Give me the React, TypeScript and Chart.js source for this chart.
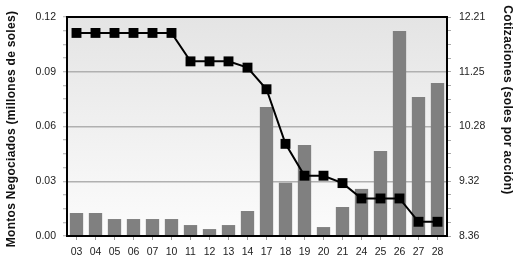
import React, { useEffect, useRef } from "react";
import { Chart, registerables } from "chart.js";

Chart.register(...registerables);

const categories = ["03", "04", "05", "06", "07", "10", "11", "12", "13", "14", "17", "18", "19", "20", "21", "24", "25", "26", "27", "28"];
const montos = [0.0126, 0.0126, 0.0093, 0.0093, 0.0093, 0.0093, 0.006, 0.0038, 0.006, 0.0137, 0.0707, 0.0292, 0.0499, 0.0049, 0.0159, 0.0258, 0.0466, 0.1123, 0.0762, 0.0838];
const cotizaciones = [11.93, 11.93, 11.93, 11.93, 11.93, 11.93, 11.43, 11.43, 11.43, 11.32, 10.94, 9.98, 9.42, 9.42, 9.29, 9.02, 9.02, 9.02, 8.61, 8.61];
const leftTickLabels = ["0.00", "0.03", "0.06", "0.09", "0.12"];
const rightTickLabels = ["8.36", "9.32", "10.28", "11.25", "12.21"];
const leftTitle = "Montos Negociados (millones de soles)";
const rightTitle = "Cotizaciones (soles por acción)";

const LEFT_MIN = 0;
const LEFT_MAX = 0.12;
const RIGHT_MIN = 8.36;
const RIGHT_MAX = 12.21;
const MINOR = 4;

const framePlugin = {
  id: "frame",
  beforeDraw(chart: any) {
    const { ctx, chartArea: a } = chart;
    ctx.save();
    const g = ctx.createLinearGradient(0, a.top, 0, a.bottom);
    g.addColorStop(0, "#e4e4e4");
    g.addColorStop(1, "#fcfcfc");
    ctx.fillStyle = g;
    ctx.fillRect(a.left, a.top, a.right - a.left, a.bottom - a.top);
    ctx.restore();
  },
  afterDraw(chart: any) {
    const { ctx, chartArea: a } = chart;
    ctx.save();
    ctx.strokeStyle = "#000";
    ctx.lineWidth = 2;
    ctx.strokeRect(a.left, a.top, a.right - a.left, a.bottom - a.top);
    ctx.fillStyle = "#111";
    ctx.font = "bold 12px 'Liberation Sans', Arial, sans-serif";
    try {
      (ctx as any).letterSpacing = "0.3px";
    } catch (e) {}
    ctx.textAlign = "center";
    ctx.textBaseline = "middle";
    ctx.save();
    ctx.translate(12, 129);
    ctx.rotate(-Math.PI / 2);
    ctx.fillText(leftTitle, 0, 0);
    ctx.restore();
    ctx.save();
    ctx.translate(507, 100);
    ctx.rotate(Math.PI / 2);
    ctx.fillText(rightTitle, 0, 0);
    ctx.restore();
    ctx.restore();
  },
};

export default function App() {
  const ref = useRef<HTMLCanvasElement | null>(null);
  useEffect(() => {
    document.body.style.margin = "0";
    if (!ref.current) return;
    const tickFont = { family: "'Liberation Sans', Arial, sans-serif", size: 10.5 };
    const chart = new Chart(ref.current, {
      type: "bar",
      data: {
        labels: categories,
        datasets: [
          {
            type: "line",
            data: cotizaciones,
            yAxisID: "y1",
            borderColor: "#000",
            borderWidth: 2,
            pointStyle: "rect",
            pointRadius: 7,
            pointBackgroundColor: "#000",
            pointBorderColor: "#000",
            pointBorderWidth: 0,
            tension: 0,
            order: 0,
          } as any,
          {
            type: "bar",
            data: montos,
            yAxisID: "y",
            backgroundColor: "#808080",
            borderWidth: 0,
            barPercentage: 0.7,
            categoryPercentage: 1,
            order: 1,
          } as any,
        ],
      },
      options: {
        responsive: false,
        animation: false,
        layout: { padding: { top: 17, left: 0, right: 0, bottom: 0 } },
        plugins: { legend: { display: false }, tooltip: { enabled: false }, title: { display: false } },
        scales: {
          x: {
            offset: true,
            border: { display: false },
            grid: { drawOnChartArea: false, offset: false, tickLength: 4, color: "#999" } as any,
            ticks: { autoSkip: false, maxRotation: 0, font: tickFont, color: "#222", padding: 6 },
            afterFit(scale: any) {
              scale.height = 23;
            },
          },
          y: {
            position: "left",
            min: LEFT_MIN,
            max: LEFT_MAX,
            border: { display: false },
            afterBuildTicks(scale: any) {
              const t = [];
              const n = (leftTickLabels.length - 1) * MINOR;
              for (let i = 0; i <= n; i++) t.push({ value: LEFT_MIN + ((LEFT_MAX - LEFT_MIN) * i) / n });
              scale.ticks = t;
            },
            ticks: {
              autoSkip: false,
              font: tickFont,
              color: "#222",
              padding: 7,
              callback(_v: any, i: number) {
                return i % MINOR === 0 ? leftTickLabels[i / MINOR] : "";
              },
            },
            grid: {
              tickLength: 4,
              lineWidth: 1.5,
              tickWidth: 1,
              tickColor: "#aaa",
              color(ctx: any) {
                const i = ctx.index;
                const n = (leftTickLabels.length - 1) * MINOR;
                return i % MINOR === 0 && i !== 0 && i !== n ? "#b0b0b0" : "rgba(0,0,0,0)";
              },
            } as any,
            afterFit(scale: any) {
              scale.width = 67;
            },
          },
          y1: {
            position: "right",
            min: RIGHT_MIN,
            max: RIGHT_MAX,
            border: { display: false },
            afterBuildTicks(scale: any) {
              const t = [];
              const n = (rightTickLabels.length - 1) * MINOR;
              for (let i = 0; i <= n; i++) t.push({ value: RIGHT_MIN + ((RIGHT_MAX - RIGHT_MIN) * i) / n });
              scale.ticks = t;
            },
            ticks: {
              autoSkip: false,
              font: tickFont,
              color: "#222",
              padding: 8,
              callback(_v: any, i: number) {
                return i % MINOR === 0 ? rightTickLabels[i / MINOR] : "";
              },
            },
            grid: { drawOnChartArea: false, tickLength: 4, tickColor: "#aaa", color: "#aaa" },
            afterFit(scale: any) {
              scale.width = 70;
            },
          },
        },
      },
      plugins: [framePlugin],
    });
    return () => chart.destroy();
  }, []);
  return (
    <div style={{ width: 517, height: 259 }}>
      <canvas ref={ref} width={517} height={259} style={{ display: "block" }} />
    </div>
  );
}
